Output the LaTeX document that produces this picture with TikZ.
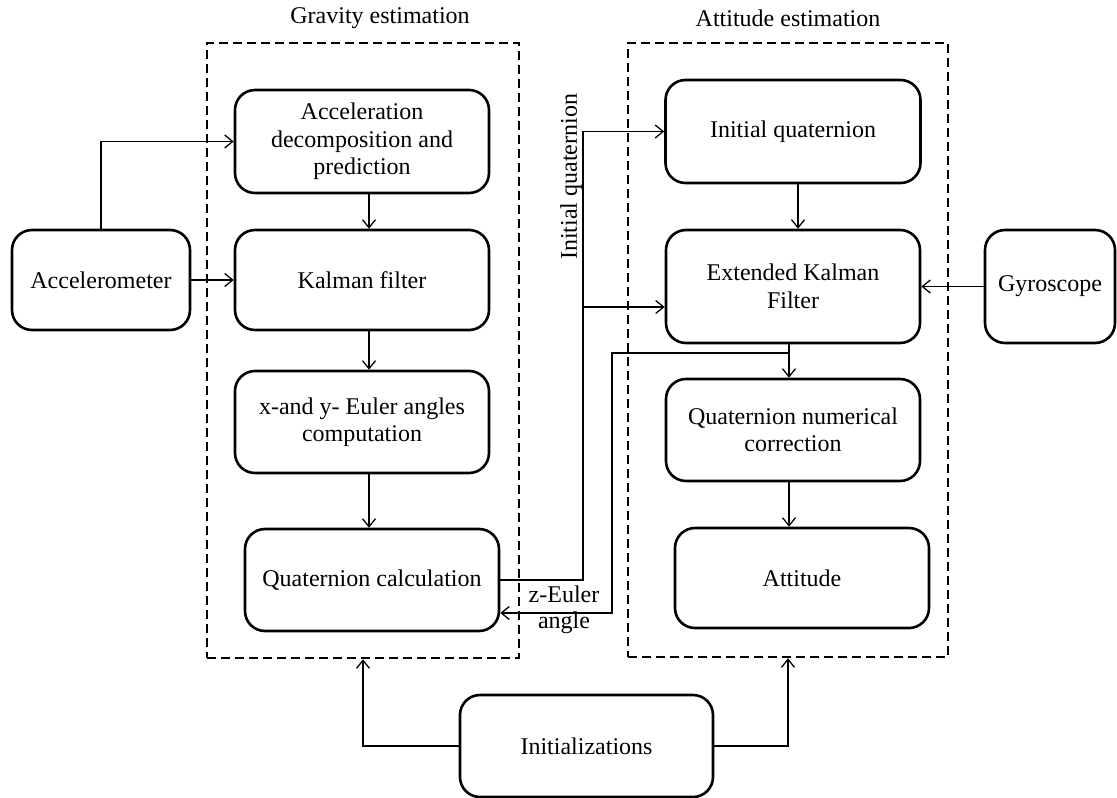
\documentclass[tikz,border=0pt]{standalone}
\usepackage{fontspec}
\setmainfont{Liberation Serif}
\usetikzlibrary{arrows.meta,calc}
\begin{document}
\begin{tikzpicture}[x=1pt,y=-1pt,
  box/.style={draw,line width=2.6pt,rounded corners=20pt,align=center,inner sep=2pt,
    font=\fontsize{24}{27.5}\selectfont},
  frame/.style={draw,line width=2.6pt,dash pattern=on 9pt off 5pt,inner sep=0pt},
  arr/.style={line width=1.3pt,-{Straight Barb[length=8pt,width=13pt,line width=1.3pt]}},
  lbl/.style={font=\fontsize{24}{26}\selectfont,align=center,inner sep=0pt}]
\useasboundingbox (0,0) rectangle (1117,798);
% frames
\node[frame,minimum width=312pt,minimum height=615pt] (gbox) at (363,350.5) {};
\node[frame,minimum width=320pt,minimum height=614pt] (abox) at (788,350) {};
\node[lbl] (gtitle) at (380,18) {Gravity estimation};
\node[lbl] (atitle) at (788,18) {Attitude estimation};
% boxes
\node[box,minimum width=178pt,minimum height=100pt] (acc) at (101,280) {Accelerometer};
\node[box,minimum width=254pt,minimum height=103pt] (adp) at (362,141.5) {Acceleration\\decomposition and\\prediction};
\node[box,minimum width=254pt,minimum height=100pt] (kf) at (362,280) {Kalman filter};
\node[box,minimum width=254pt,minimum height=102pt] (eul) at (362,422) {x-and y- Euler angles\\computation};
\node[box,minimum width=254pt,minimum height=102pt] (qc) at (372,580) {Quaternion calculation};
\node[box,minimum width=255pt,minimum height=103pt] (iq) at (793,131.5) {Initial quaternion};
\node[box,minimum width=254pt,minimum height=113pt] (ekf) at (793,286.5) {Extended Kalman\\Filter};
\node[box,minimum width=254pt,minimum height=102pt] (qnc) at (793,430) {Quaternion numerical\\correction};
\node[box,minimum width=254pt,minimum height=100pt] (att) at (802,578) {Attitude};
\node[box,minimum width=130pt,minimum height=113pt] (gyro) at (1050,286.5) {Gyroscope};
\node[box,minimum width=253pt,minimum height=102pt] (init) at (586.5,746) {Initializations};
% coordinates
\coordinate (jq) at (583,0);
\coordinate (b1) at (583,307);
\coordinate (z1) at (789,353);
\coordinate (z2) at (612,613);
% connectors
\draw[arr] (acc.north) |- (adp.west);
\draw[arr] (acc.east) -- (kf.west);
\draw[arr] ([xshift=7pt]adp.south) -- ([xshift=7pt]kf.north);
\draw[arr] ([xshift=7pt]kf.south) -- ([xshift=7pt]eul.north);
\draw[arr] ([xshift=7pt]eul.south) -- ([xshift=-3pt]qc.north);
\draw[arr] ([xshift=5pt]iq.south) -- ([xshift=5pt]ekf.north);
\draw[arr] ([xshift=-4pt]ekf.south) -- ([xshift=-4pt]qnc.north);
\draw[arr] ([xshift=-4pt]qnc.south) -- ([xshift=-13pt]att.north);
\draw[arr] (gyro.west) -- (ekf.east);
\draw[arr] (qc.east) -- (qc.east -| jq) |- (iq.west);
\draw[arr] (b1) -- (b1 -| ekf.west);
\draw[arr] (z1) -| (z2) -- (z2 -| qc.east);
\draw[arr] (init.west) -| (gbox.south);
\draw[arr] (init.east) -| (abox.south);
% labels
\node[lbl,rotate=90] (iqlbl) at (571,177) {Initial quaternion};
\node[lbl] (zlbl) at (564,610) {z-Euler\\angle};
\end{tikzpicture}
\end{document}
